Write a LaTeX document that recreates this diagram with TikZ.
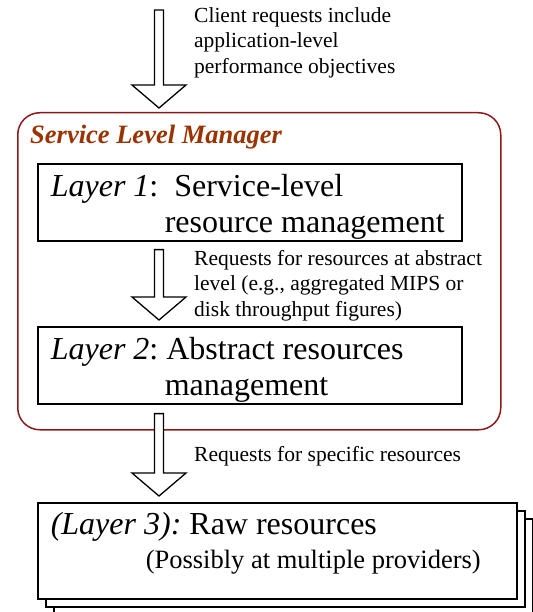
\documentclass[tikz,border=0pt]{standalone}
\usepackage{fontspec}
\setmainfont{Liberation Serif}
\usetikzlibrary{calc, positioning}
\definecolor{slmred}{RGB}{139,26,26}
\definecolor{slmtitle}{RGB}{153,51,0}
\tikzset{
    layer/.style={rectangle, draw=black, line width=1.6pt, fill=white, align=flush left, anchor=north west, inner xsep=13pt, inner ysep=0pt, text height=33pt, text depth=44pt, font=\fontsize{32}{36}\selectfont\frenchspacing},
    stack/.style={rectangle, draw=black, line width=1.6pt, fill=white, anchor=north west, minimum width=479pt, minimum height=96pt},
    manager/.style={rectangle, draw=slmred, line width=1.5pt, rounded corners=22pt, anchor=north west},
    title/.style={anchor=base west, inner sep=0pt, text=slmtitle, font=\fontsize{26.5}{30}\selectfont\bfseries\itshape},
    note/.style={align=left, anchor=north west, inner sep=0pt, font=\fontsize{21.5}{25.5}\selectfont},
    bigarrow/.style={draw=black, line width=1.3pt, fill=white, line join=miter}
}
% hollow block arrow: #1 = top of shaft, #2 = tip
\newcommand{\blockarrow}[2]{%
    \draw[bigarrow] ($(#1)+(-4.5,0)$) -- ($(#2)+(-4.5,-23)$) -- ($(#2)+(-27,-23)$) -- (#2)
        -- ($(#2)+(27,-23)$) -- ($(#2)+(4.5,-23)$) -- ($(#1)+(4.5,0)$) -- cycle;}

\begin{document}
\begin{tikzpicture}[x=1pt, y=-1pt]
        \useasboundingbox (0,0) rectangle (532,612);
        \coordinate (axis) at (159,0);

        % Service level manager
        \node[manager, minimum width=483pt, minimum height=317pt] (mgr) at (17,112) {};
        \node[title] (mgrtitle) at (30,144) {Service Level Manager};

        % Layers inside the manager
        \node[layer, text width=398pt] (l1) at (37,163) {\textit{Layer 1}:\ \ Service-level\\\hspace*{114pt}resource management};
        \node[layer, text width=398pt] (l2) at (37,326) {\textit{Layer 2}: Abstract resources\\\hspace*{114pt}management};

        % Raw resources, stacked
        \node[stack] (l3c) at (53,518) {};
        \node[stack] (l3b) at (45,510) {};
        \node[layer, text width=453pt, text height=32pt, text depth=64pt] (l3) at (37,502) {\textit{(Layer 3):} Raw resources\\[-2pt]\hspace*{95pt}{\fontsize{26.5}{32}\selectfont (Possibly at multiple providers)}};

        % Arrows
        \coordinate (in) at (159,10);
        \coordinate (t1) at ($(mgr.north -| axis)+(0,-4)$);
        \blockarrow{in}{t1}
        \node[note] (note1) at (194,7) {Client requests include\\application-level\\performance objectives};

        \coordinate (s2) at ($(l1.south -| axis)+(0,8)$);
        \coordinate (t2) at ($(l2.north -| axis)+(0,-6)$);
        \blockarrow{s2}{t2}
        \node[note] (note2) at (194,250) {Requests for resources at abstract\\level (e.g., aggregated MIPS or\\disk throughput figures)};

        \coordinate (s3) at ($(l2.south -| axis)+(0,9)$);
        \coordinate (t3) at ($(l3.north -| axis)+(0,-6)$);
        \blockarrow{s3}{t3}
        \node[note] (note3) at (194,446) {Requests for specific resources};

    \end{tikzpicture}
\end{document}
